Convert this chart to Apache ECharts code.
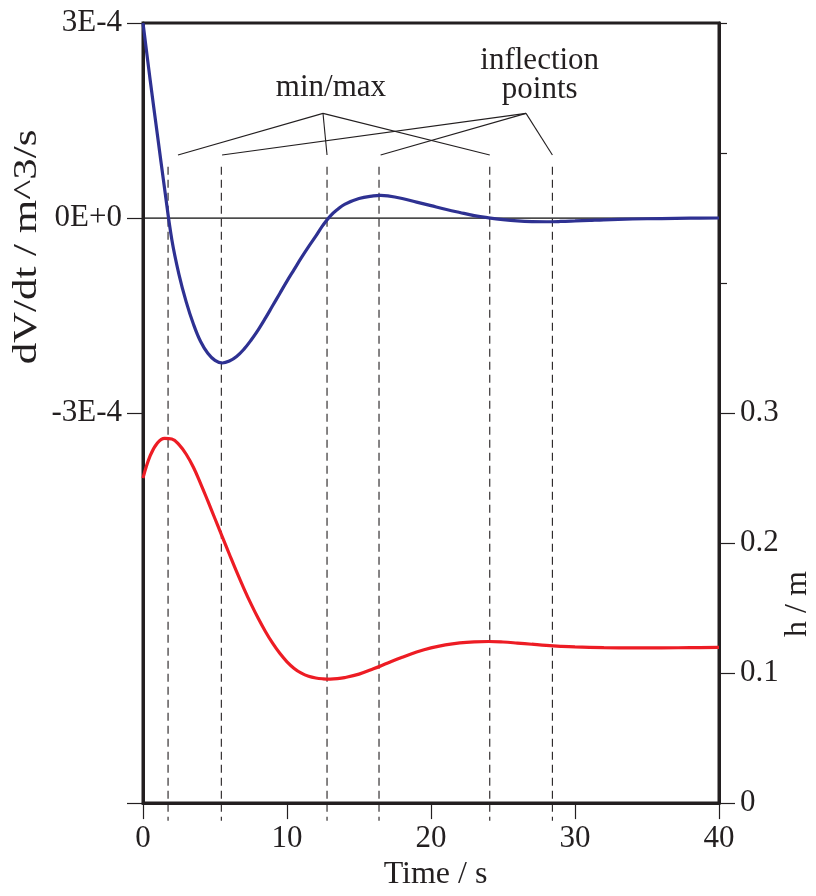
<!DOCTYPE html>
<html>
<head>
<meta charset="utf-8">
<title>Tank level and flow rate</title>
<script src="https://cdn.jsdelivr.net/npm/echarts@6/dist/echarts.min.js"></script>
<style>
  html, body { margin: 0; padding: 0; background: #ffffff; }
  #chart { width: 816px; height: 896px; }
</style>
</head>
<body>
<div id="chart"></div>
<script>
// Rate of volume change dV/dt (m^3/s) against time (s)
const dvdtTime  = [0, 0.5, 1.0, 1.5, 2.0, 2.5, 3.0, 3.5, 4.0, 4.5, 5.0, 5.5, 6.0, 6.5, 7.0, 7.5, 8.0, 8.5, 9.0, 9.5,
                   10.0, 10.5, 11.0, 11.5, 12.0, 12.5, 13.0, 13.5, 14.0, 15.0, 16.0, 16.5, 17.0, 18.0, 19.0, 20.0,
                   21.0, 22.0, 23.0, 24.0, 25.0, 26.0, 27.0, 28.0, 29.0, 30.0, 31.0, 32.0, 34.0, 36.0, 38.0, 40.0];
const dvdtValue = [3.0e-4, 2.12e-4, 1.28e-4, 0.45e-4, -0.33e-4, -0.87e-4, -1.29e-4, -1.63e-4, -1.9e-4, -2.08e-4,
                   -2.19e-4, -2.23e-4, -2.2e-4, -2.13e-4, -2.02e-4, -1.88e-4, -1.72e-4, -1.54e-4, -1.35e-4, -1.16e-4,
                   -0.97e-4, -0.79e-4, -0.61e-4, -0.44e-4, -0.28e-4, -0.11e-4, 0.03e-4, 0.13e-4, 0.21e-4, 0.3e-4,
                   0.34e-4, 0.347e-4, 0.34e-4, 0.3e-4, 0.245e-4, 0.19e-4, 0.135e-4, 0.085e-4, 0.038e-4, 0.003e-4,
                   -0.025e-4, -0.045e-4, -0.055e-4, -0.057e-4, -0.053e-4, -0.045e-4, -0.036e-4, -0.027e-4,
                   -0.015e-4, -0.008e-4, -0.003e-4, 0];

// Liquid level h (m) against time (s)
const levelTime  = [0, 0.5, 1.0, 1.5, 2.0, 2.5, 3.0, 3.5, 4.0, 4.5, 5.0, 5.5, 6.0, 6.5, 7.0, 7.5, 8.0, 8.5, 9.0, 9.5,
                    10.0, 10.5, 11.0, 11.5, 12.0, 12.5, 13.0, 13.5, 14.0, 15.0, 16.0, 17.0, 18.0, 19.0, 20.0, 21.0,
                    22.0, 23.0, 24.0, 25.0, 26.0, 27.0, 28.0, 29.0, 30.0, 32.0, 34.0, 36.0, 38.0, 40.0];
const levelValue = [0.250, 0.2672, 0.2770, 0.2805, 0.2800, 0.2757, 0.2683, 0.2583, 0.2458, 0.2324, 0.2187, 0.2050,
                    0.1914, 0.1780, 0.1652, 0.1532, 0.1421, 0.1320, 0.1230, 0.1152, 0.1087, 0.1036, 0.0999, 0.0975,
                    0.0962, 0.0956, 0.0954, 0.0957, 0.0965, 0.0992, 0.1033, 0.1078, 0.1122, 0.1162, 0.1194, 0.1217,
                    0.1232, 0.1240, 0.1243, 0.1239, 0.1231, 0.1222, 0.1213, 0.1206, 0.1201, 0.1196, 0.1194, 0.1194,
                    0.1196, 0.1197];

// Times of the level's extrema (dV/dt = 0) and of its inflection points (dV/dt extrema)
const extremaTimes    = [1.74, 12.78, 24.08];
const inflectionTimes = [5.44, 16.39, 28.43];
const guideTop    = 0.79e-4;   // dV/dt value where the dashed guides start
const guideBottom = -9.27e-4;  // runs a little past the time axis

// Annotation leaders (time, dV/dt)
const minMaxApex        = [12.5, 1.61e-4];
const minMaxEnds        = [2.43, 12.78, 24.08];
const inflectionApex    = [26.6, 1.61e-4];
const inflectionEnds    = [5.49, 16.5, 28.43];
const leaderEndLevel    = 0.97e-4;
const minMaxTextAt      = [13.05, 2.0e-4];
const inflectionTextAt  = [27.55, 2.19e-4];

// Axis ticks
const timeRange       = [0, 40];
const dvdtRange       = [-9e-4, 3e-4];
const dvdtTicks       = [-9e-4, -3e-4, 0, 3e-4];
const dvdtTickLabels  = [-3e-4, 0, 3e-4];
const levelRange      = [0, 0.6];
const levelTickLabels = [0, 0.1, 0.2, 0.3];
const levelMinorTicks = [0.4, 0.5, 0.6];
const dvdtGridValues  = [0, -3e-4];

const INK = '#231f20';
const FONT = '"Liberation Serif", "Times New Roman", serif';

const chart = echarts.init(document.getElementById('chart'), null, { renderer: 'canvas' });

const zip = (xs, ys) => xs.map((x, i) => [x, ys[i]]);

const guideSeries = extremaTimes.concat(inflectionTimes).map(t => ({
  type: 'line',
  xAxisIndex: 0,
  yAxisIndex: 0,
  data: [[t, guideTop], [t, guideBottom]],
  symbol: 'none',
  clip: false,
  silent: true,
  z: 1,
  lineStyle: { color: INK, width: 1.1, type: [8, 5] }
}));

const leaderData = minMaxEnds.map(t => ({ coords: [minMaxApex, [t, leaderEndLevel]] }))
  .concat(inflectionEnds.map(t => ({ coords: [inflectionApex, [t, leaderEndLevel]] })));

const plotRect = { left: 143, right: 97, top: 23, bottom: 92 };

const option = {
  animation: false,
  backgroundColor: '#ffffff',
  textStyle: { fontFamily: FONT, color: INK },
  grid: [
    Object.assign({ show: true, borderColor: INK, borderWidth: 3, backgroundColor: 'transparent' }, plotRect),
    // same rectangle, only carries the short unlabeled ticks of the level axis
    Object.assign({ show: false }, plotRect)
  ],
  xAxis: [
    {
      type: 'value',
      gridIndex: 0,
      min: timeRange[0], max: timeRange[1], interval: 10,
      name: 'Time / s',
      nameLocation: 'middle',
      nameGap: 55,
      nameTextStyle: { fontFamily: FONT, fontSize: 32, color: INK, padding: [0, 0, 0, 9] },
      axisLine: { show: true, onZero: false, lineStyle: { color: INK, width: 3 } },
      axisTick: { show: true, inside: false, length: 16, lineStyle: { color: INK, width: 1.2 } },
      axisLabel: { margin: 20, fontFamily: FONT, fontSize: 31, color: INK },
      splitLine: { show: false }
    },
    {
      type: 'value',
      gridIndex: 1,
      min: timeRange[0], max: timeRange[1],
      show: false
    }
  ],
  yAxis: [
    {
      type: 'value',
      gridIndex: 0,
      position: 'left',
      min: dvdtRange[0], max: dvdtRange[1], interval: 3e-4,
      axisLine: { show: true, onZero: false, lineStyle: { color: INK, width: 3 } },
      axisTick: { show: true, length: 16, customValues: dvdtTicks, lineStyle: { color: INK, width: 1.2 } },
      axisLabel: {
        margin: 21, fontFamily: FONT, fontSize: 31, color: INK,
        customValues: dvdtTickLabels,
        formatter: v => Number(v).toExponential(0).toUpperCase()
      },
      splitLine: { show: false }
    },
    {
      type: 'value',
      gridIndex: 0,
      position: 'right',
      min: levelRange[0], max: levelRange[1], interval: 0.1,
      axisLine: { show: true, onZero: false, lineStyle: { color: INK, width: 3 } },
      axisTick: { show: true, length: 16, customValues: levelTickLabels, lineStyle: { color: INK, width: 1.2 } },
      axisLabel: {
        margin: 21, fontFamily: FONT, fontSize: 31, color: INK,
        customValues: levelTickLabels,
        formatter: v => (v === 0 ? '0' : Number(v).toFixed(1))
      },
      splitLine: { show: false }
    },
    {
      type: 'value',
      gridIndex: 1,
      position: 'right',
      min: levelRange[0], max: levelRange[1], interval: 0.1,
      axisLine: { show: false, onZero: false },
      axisTick: { show: true, length: 8, customValues: levelMinorTicks, lineStyle: { color: INK, width: 1.2 } },
      axisLabel: { show: false },
      splitLine: { show: false }
    }
  ],
  graphic: [
    {
      type: 'text',
      x: 27, y: 247,
      rotation: Math.PI / 2,
      scaleX: 1.3,
      style: {
        text: 'dV/dt / m^3/s',
        fontFamily: FONT, fontSize: 33, fill: INK,
        align: 'center', verticalAlign: 'middle'
      }
    },
    {
      type: 'text',
      x: 798, y: 604,
      rotation: Math.PI / 2,
      style: {
        text: 'h / m',
        fontFamily: FONT, fontSize: 32, fill: INK,
        align: 'center', verticalAlign: 'middle'
      }
    }
  ],
  series: guideSeries.concat([
    {
      type: 'lines',
      coordinateSystem: 'cartesian2d',
      xAxisIndex: 0,
      yAxisIndex: 0,
      silent: true,
      z: 2,
      lineStyle: { color: INK, width: 1.1, opacity: 1, curveness: 0 },
      data: leaderData
    },
    {
      type: 'scatter',
      xAxisIndex: 0,
      yAxisIndex: 0,
      symbolSize: 1,
      silent: true,
      itemStyle: { color: 'rgba(0,0,0,0)', opacity: 1 },
      label: {
        show: true, position: 'inside', formatter: '{b}', opacity: 1,
        fontFamily: FONT, fontSize: 31, color: INK, lineHeight: 29
      },
      data: [
        { name: 'min/max', value: minMaxTextAt },
        { name: 'inflection\npoints', value: inflectionTextAt }
      ]
    },
    {
      name: 'dV/dt',
      type: 'line',
      xAxisIndex: 0,
      yAxisIndex: 0,
      data: zip(dvdtTime, dvdtValue),
      smooth: 0.4,
      symbol: 'none',
      z: 4,
      lineStyle: { color: '#2e3192', width: 3.2 },
      markLine: {
        silent: true,
        symbol: ['none', 'none'],
        label: { show: false },
        z: 0,
        data: dvdtGridValues.map((v, i) => ({
          yAxis: v,
          lineStyle: { color: i === 0 ? '#333333' : '#555555', width: i === 0 ? 1.2 : 1.6, type: 'solid' }
        }))
      }
    },
    {
      name: 'h',
      type: 'line',
      xAxisIndex: 0,
      yAxisIndex: 1,
      data: zip(levelTime, levelValue),
      smooth: 0.4,
      symbol: 'none',
      z: 4,
      lineStyle: { color: '#ed1c24', width: 3.2 }
    }
  ])
};

chart.setOption(option);
</script>
</body>
</html>
